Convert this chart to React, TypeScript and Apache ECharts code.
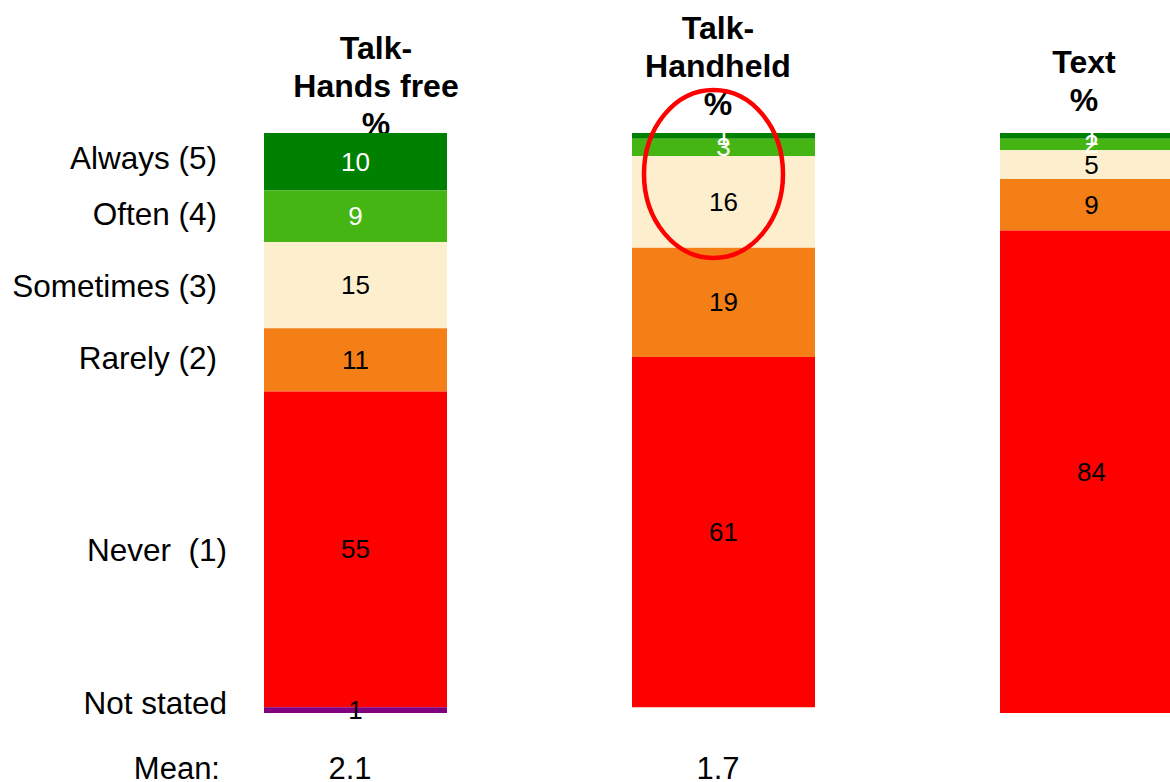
import React, { useEffect, useRef } from "react";
import * as echarts from "echarts";

const categories = ["Talk-\nHands free\n%", "Talk-\nHandheld\n%", "Text\n%"];
const seriesNames = ["Always (5)", "Often (4)", "Sometimes (3)", "Rarely (2)", "Never  (1)", "Not stated"];
const alwaysVals = [10, 1, 1];
const oftenVals = [9, 3, 2];
const sometimesVals = [15, 16, 5];
const rarelyVals = [11, 19, 9];
const neverVals = [55, 61, 84];
const notStatedVals = [1, 0, 0];
const meanLabel = "Mean:";
const meanVals = ["2.1", "1.7"];

const colors = ["#008000", "#44B512", "#FDEFCE", "#F47F17", "#FF0000", "#800080"];
const labelColors = ["#FFFFFF", "#FFFFFF", "#000000", "#000000", "#000000", "#000000"];
const FONT = "'Liberation Sans', Arial, sans-serif";

export default function App() {
  const ref = useRef<HTMLDivElement>(null);
  useEffect(() => {
    if (!ref.current) return;
    const chart = echarts.init(ref.current, null, { renderer: "svg" });
    const allVals = [alwaysVals, oftenVals, sometimesVals, rarelyVals, neverVals, notStatedVals];
    const series = allVals.map((vals, i) => ({
      name: seriesNames[i],
      type: "bar",
      stack: "total",
      barWidth: 183,
      data: vals,
      itemStyle: { color: colors[i] },
      label: {
        show: true,
        position: "inside",
        color: labelColors[i],
        fontSize: 26,
        fontFamily: FONT,
        formatter: (p: any) => (p.value === 0 ? "" : String(p.value)),
      },
    }));

    const rowLabelPos = [
      { x: 217, y: 158 },
      { x: 217, y: 214 },
      { x: 217, y: 286 },
      { x: 217, y: 358 },
      { x: 227, y: 550 },
      { x: 227, y: 703 },
    ];
    const headerPos = [
      { x: 376, y: 29 },
      { x: 718, y: 9 },
      { x: 1084, y: 43 },
    ];
    const meanPos = [350, 718];

    const graphic: any[] = [];
    seriesNames.forEach((n, i) => {
      graphic.push({
        type: "text",
        x: rowLabelPos[i].x,
        y: rowLabelPos[i].y,
        z: 0,
        style: {
          text: n,
          fontSize: 31.5,
          fontFamily: FONT,
          fill: "#000",
          align: "right",
          verticalAlign: "middle",
        },
      });
    });
    categories.forEach((c, i) => {
      graphic.push({
        type: "text",
        x: headerPos[i].x,
        y: headerPos[i].y,
        z: 0,
        style: {
          text: c,
          fontSize: 32,
          fontWeight: "bold",
          fontFamily: FONT,
          fill: "#000",
          align: "center",
          verticalAlign: "top",
          lineHeight: 38,
        },
      });
    });
    graphic.push({
      type: "text",
      x: 220,
      y: 768,
      style: { text: meanLabel, fontSize: 31, fontFamily: FONT, fill: "#000", align: "right", verticalAlign: "middle" },
    });
    meanVals.forEach((m, i) => {
      graphic.push({
        type: "text",
        x: meanPos[i],
        y: 768,
        style: { text: m, fontSize: 31, fontFamily: FONT, fill: "#000", align: "center", verticalAlign: "middle" },
      });
    });
    graphic.push({
      type: "ellipse",
      z: 100,
      shape: { cx: 713.5, cy: 174, rx: 69.5, ry: 84 },
      style: { fill: "none", stroke: "#FF0000", lineWidth: 4.5 },
    });

    chart.setOption({
      animation: false,
      backgroundColor: "#FFFFFF",
      grid: { left: 171.5, top: 133, width: 1104, height: 580 },
      xAxis: {
        type: "category",
        data: categories,
        show: false,
      },
      yAxis: {
        type: "value",
        inverse: true,
        min: 0,
        max: 101,
        show: false,
      },
      series,
      graphic,
    });
    return () => chart.dispose();
  }, []);
  return (
    <div
      style={{ position: "absolute", left: 0, top: 0, width: 1170, height: 782, overflow: "hidden", background: "#fff" }}
    >
      <div ref={ref} style={{ position: "absolute", left: 0, top: 0, width: 1290, height: 782 }} />
    </div>
  );
}
